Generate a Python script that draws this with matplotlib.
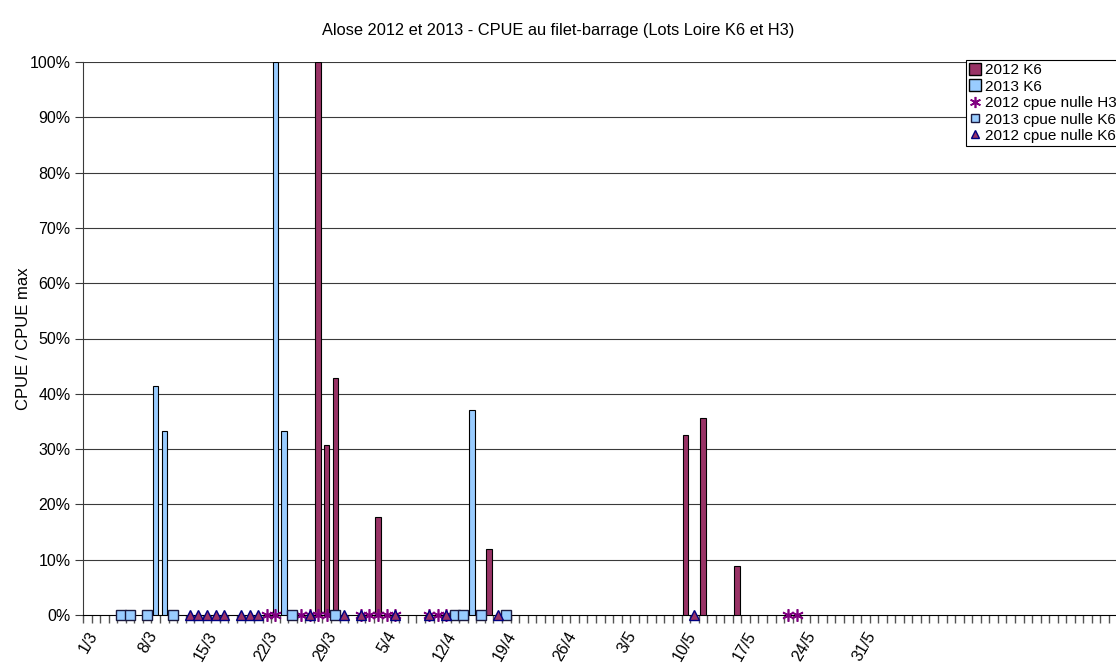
import matplotlib.pyplot as plt
import pandas as pd
from matplotlib.lines import Line2D
from matplotlib.patches import Patch

plt.rcParams['font.family'] = ['Liberation Sans', 'DejaVu Sans']

# season runs from 1/3 to 30/6, one category per day
start = '1/3'
n_days = 122

# non zero catches (CPUE / CPUE max)
k6_2012_dates = ['28/3', '29/3', '30/3', '4/4', '17/4', '10/5', '12/5', '16/5']
k6_2012_vals = [1.0, 0.307, 0.428, 0.178, 0.119, 0.326, 0.357, 0.089]
k6_2013_dates = ['9/3', '10/3', '23/3', '24/3', '15/4']
k6_2013_vals = [0.415, 0.333, 1.0, 0.333, 0.37]

# days fished with zero catch
nulle_h3_2012 = ['22/3', '23/3', '26/3', '27/3', '28/3', '29/3', '2/4', '3/4', '4/4',
                 '5/4', '6/4', '10/4', '11/4', '12/4', '22/5', '23/5']
nulle_k6_2013 = ['5/3', '6/3', '8/3', '11/3', '25/3', '30/3', '13/4', '14/4', '16/4', '19/4']
nulle_k6_2012 = ['13/3', '14/3', '15/3', '16/3', '17/3', '19/3', '20/3', '21/3', '27/3',
                 '31/3', '2/4', '6/4', '10/4', '12/4', '18/4', '11/5']

tick_labels = ['1/3', '8/3', '15/3', '22/3', '29/3', '5/4', '12/4', '19/4', '26/4',
               '3/5', '10/5', '17/5', '24/5', '31/5']


def day_index(dates):
    d0 = pd.to_datetime(start + '/2013', format='%d/%m/%Y')
    d = pd.to_datetime([s + '/2013' for s in dates], format='%d/%m/%Y')
    return [(x - d0).days + 0.5 for x in d]


fig = plt.figure(figsize=(11.16, 6.67), dpi=100)
ax = fig.add_axes([83 / 1116, 52 / 667, 122 * 8.55 / 1116, 553 / 667])

ax.set_xlim(0, n_days)
ax.set_ylim(0, 1)

for v in [0.1 * k for k in range(1, 11)]:
    ax.axhline(v, color='#3a3a3a', lw=0.8, zorder=1)

c2012 = '#993366'
c2013 = '#99CCFF'
ax.bar(day_index(k6_2012_dates), k6_2012_vals, width=0.62, color=c2012,
       edgecolor='black', linewidth=0.8, zorder=3)
ax.bar(day_index(k6_2013_dates), k6_2013_vals, width=0.62, color=c2013,
       edgecolor='black', linewidth=0.8, zorder=3)

star = (6, 2, 0)
ax.plot(day_index(nulle_h3_2012), [0] * len(nulle_h3_2012), ls='none', marker=star,
        ms=9, mew=1.2, color='#800080', clip_on=False, zorder=5)
ax.plot(day_index(nulle_k6_2013), [0] * len(nulle_k6_2013), ls='none', marker='s',
        ms=6.5, mew=1.0, mfc=c2013, mec='#1a1a40', clip_on=False, zorder=5)
ax.plot(day_index(nulle_k6_2012), [0] * len(nulle_k6_2012), ls='none', marker='^',
        ms=7, mew=1.0, mfc=c2012, mec='#000080', clip_on=False, zorder=6)

for s in ['top', 'right']:
    ax.spines[s].set_visible(False)
ax.spines['left'].set_color('#3a3a3a')
ax.spines['bottom'].set_color('black')

ax.set_yticks([0.1 * k for k in range(11)])
ax.set_yticklabels(['%d%%' % (10 * k) for k in range(11)], fontsize=11.5)
ax.tick_params(axis='y', length=6, color='#3a3a3a', pad=3)

ax.set_xticks(range(n_days + 1), minor=True)
ax.set_xticks([7 * i + 0.5 for i in range(len(tick_labels))])
ax.set_xticklabels(tick_labels, rotation=60, ha='right', va='top',
                   rotation_mode='anchor', fontsize=11.5)
ax.tick_params(axis='x', which='major', length=0, pad=10)
ax.tick_params(axis='x', which='minor', length=6, color='#555555', width=1.0)

ax.set_ylabel('CPUE / CPUE max', fontsize=12)
ax.yaxis.set_label_coords(-52 / 1043, 0.5)
fig.text(0.5, 1 - 30 / 667, 'Alose 2012 et 2013 - CPUE au filet-barrage (Lots Loire K6 et H3)',
         ha='center', va='center', fontsize=11.8)

handles = [
    Patch(facecolor=c2012, edgecolor='black', label='2012 K6'),
    Patch(facecolor=c2013, edgecolor='black', label='2013 K6'),
    Line2D([], [], ls='none', marker=star, ms=8, mew=1.2, color='#800080',
           label='2012 cpue nulle H3'),
    Line2D([], [], ls='none', marker='s', ms=5.5, mfc=c2013, mec='#1a1a40',
           label='2013 cpue nulle K6'),
    Line2D([], [], ls='none', marker='^', ms=6, mfc=c2012, mec='#000080',
           label='2012 cpue nulle K6'),
]
leg = fig.legend(handles=handles, loc='upper left', bbox_to_anchor=(966 / 1116, 1 - 60 / 667),
                 fontsize=11, frameon=True, fancybox=False, framealpha=1, borderpad=0.2,
                 handlelength=0.8, handleheight=0.8, handletextpad=0.25, labelspacing=0.15,
                 borderaxespad=0)
leg.get_frame().set_edgecolor('black')
leg.get_frame().set_linewidth(0.8)

fig.savefig('out.png', dpi=100)
